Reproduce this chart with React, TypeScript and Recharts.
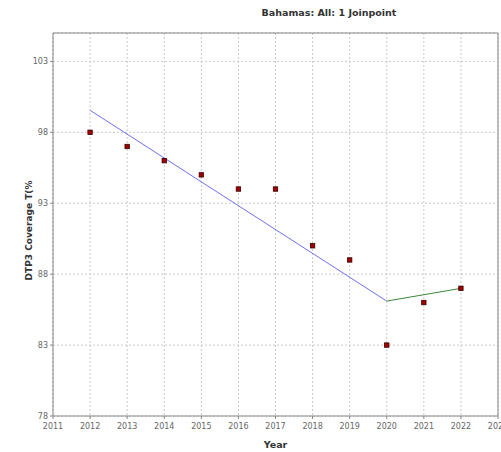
import React from "react";
import {
  ComposedChart,
  Line,
  Scatter,
  XAxis,
  YAxis,
  CartesianGrid,
  ReferenceLine,
  Label,
} from "recharts";

// Observed DTP3 coverage by year
const years = [2012, 2013, 2014, 2015, 2016, 2017, 2018, 2019, 2020, 2021, 2022];
const coverage = [98, 97, 96, 95, 94, 94, 90, 89, 83, 86, 87];

// Joinpoint model segments
const segment1Years = [2012, 2020];
const segment1Values = [99.55, 86.1];
const segment2Years = [2020, 2022];
const segment2Values = [86.1, 87.0];

const xTicks = [2011, 2012, 2013, 2014, 2015, 2016, 2017, 2018, 2019, 2020, 2021, 2022, 2023];
const yTicks = [78, 83, 88, 93, 98, 103];

const observed = years.map((x, i) => ({ x, y: coverage[i] }));
const seg1 = segment1Years.map((x, i) => ({ x, y: segment1Values[i] }));
const seg2 = segment2Years.map((x, i) => ({ x, y: segment2Values[i] }));

const FONT = "'DejaVu Sans', Verdana, sans-serif";

const SquareMarker = (props: any) => {
  const { cx, cy } = props;
  if (cx == null || cy == null) return null;
  return (
    <rect x={cx - 2.2} y={cy - 2.2} width={4.4} height={4.4} fill="#a00000" stroke="#3a0000" strokeWidth={0.8} />
  );
};

const YTitle = (props: any) => {
  const vb = props.viewBox || {};
  const x = 32;
  const y = (vb.y ?? 0) + (vb.height ?? 0) / 2 + 6;
  return (
    <text
      x={x}
      y={y}
      transform={`rotate(-90, ${x}, ${y})`}
      textAnchor="middle"
      style={{ fontFamily: FONT, fontWeight: "bold", fontSize: 9, fill: "#333" }}
    >
      DTP3 Coverage T(%
    </text>
  );
};

export default function App() {
  return (
    <div style={{ position: "absolute", left: 0, top: 0, width: 501, height: 452, background: "#fff" }}>
      <div
        style={{
          position: "absolute",
          left: 229,
          width: 200,
          top: 7,
          textAlign: "center",
          fontFamily: FONT,
          fontWeight: "bold",
          fontSize: 9.5,
          color: "#333",
        }}
      >
        Bahamas: All: 1 Joinpoint
      </div>
      <ComposedChart
        width={501}
        height={452}
        margin={{ top: 33, right: 3, left: 0, bottom: 0 }}
      >
        <CartesianGrid stroke="#c8c8c8" strokeDasharray="2 2" />
        <XAxis
          type="number"
          dataKey="x"
          domain={[2011, 2023]}
          ticks={xTicks}
          interval={0}
          height={36}
          allowDataOverflow
          stroke="#888"
          tickSize={3}
          tick={{ fill: "#666", fontSize: 8, fontFamily: FONT, dy: 2 }}
        >
          <Label value="Year" position="insideBottom" offset={4} style={{ fontFamily: FONT, fontWeight: "bold", fontSize: 9.5, fill: "#333" }} />
        </XAxis>
        <YAxis
          type="number"
          dataKey="y"
          domain={[78, 105]}
          ticks={yTicks}
          interval={0}
          width={53}
          allowDataOverflow
          stroke="#888"
          tickSize={3}
          tick={{ fill: "#666", fontSize: 8, fontFamily: FONT }}
        >
          <Label content={YTitle} />
        </YAxis>
        <ReferenceLine y={105} stroke="#888" />
        <ReferenceLine x={2023} stroke="#888" />
        <Line data={seg1} dataKey="y" stroke="#7070ee" strokeWidth={1} dot={false} isAnimationActive={false} />
        <Line data={seg2} dataKey="y" stroke="#3a8a3a" strokeWidth={1} dot={false} isAnimationActive={false} />
        <Scatter data={observed} dataKey="y" shape={SquareMarker} isAnimationActive={false} />
      </ComposedChart>
    </div>
  );
}
